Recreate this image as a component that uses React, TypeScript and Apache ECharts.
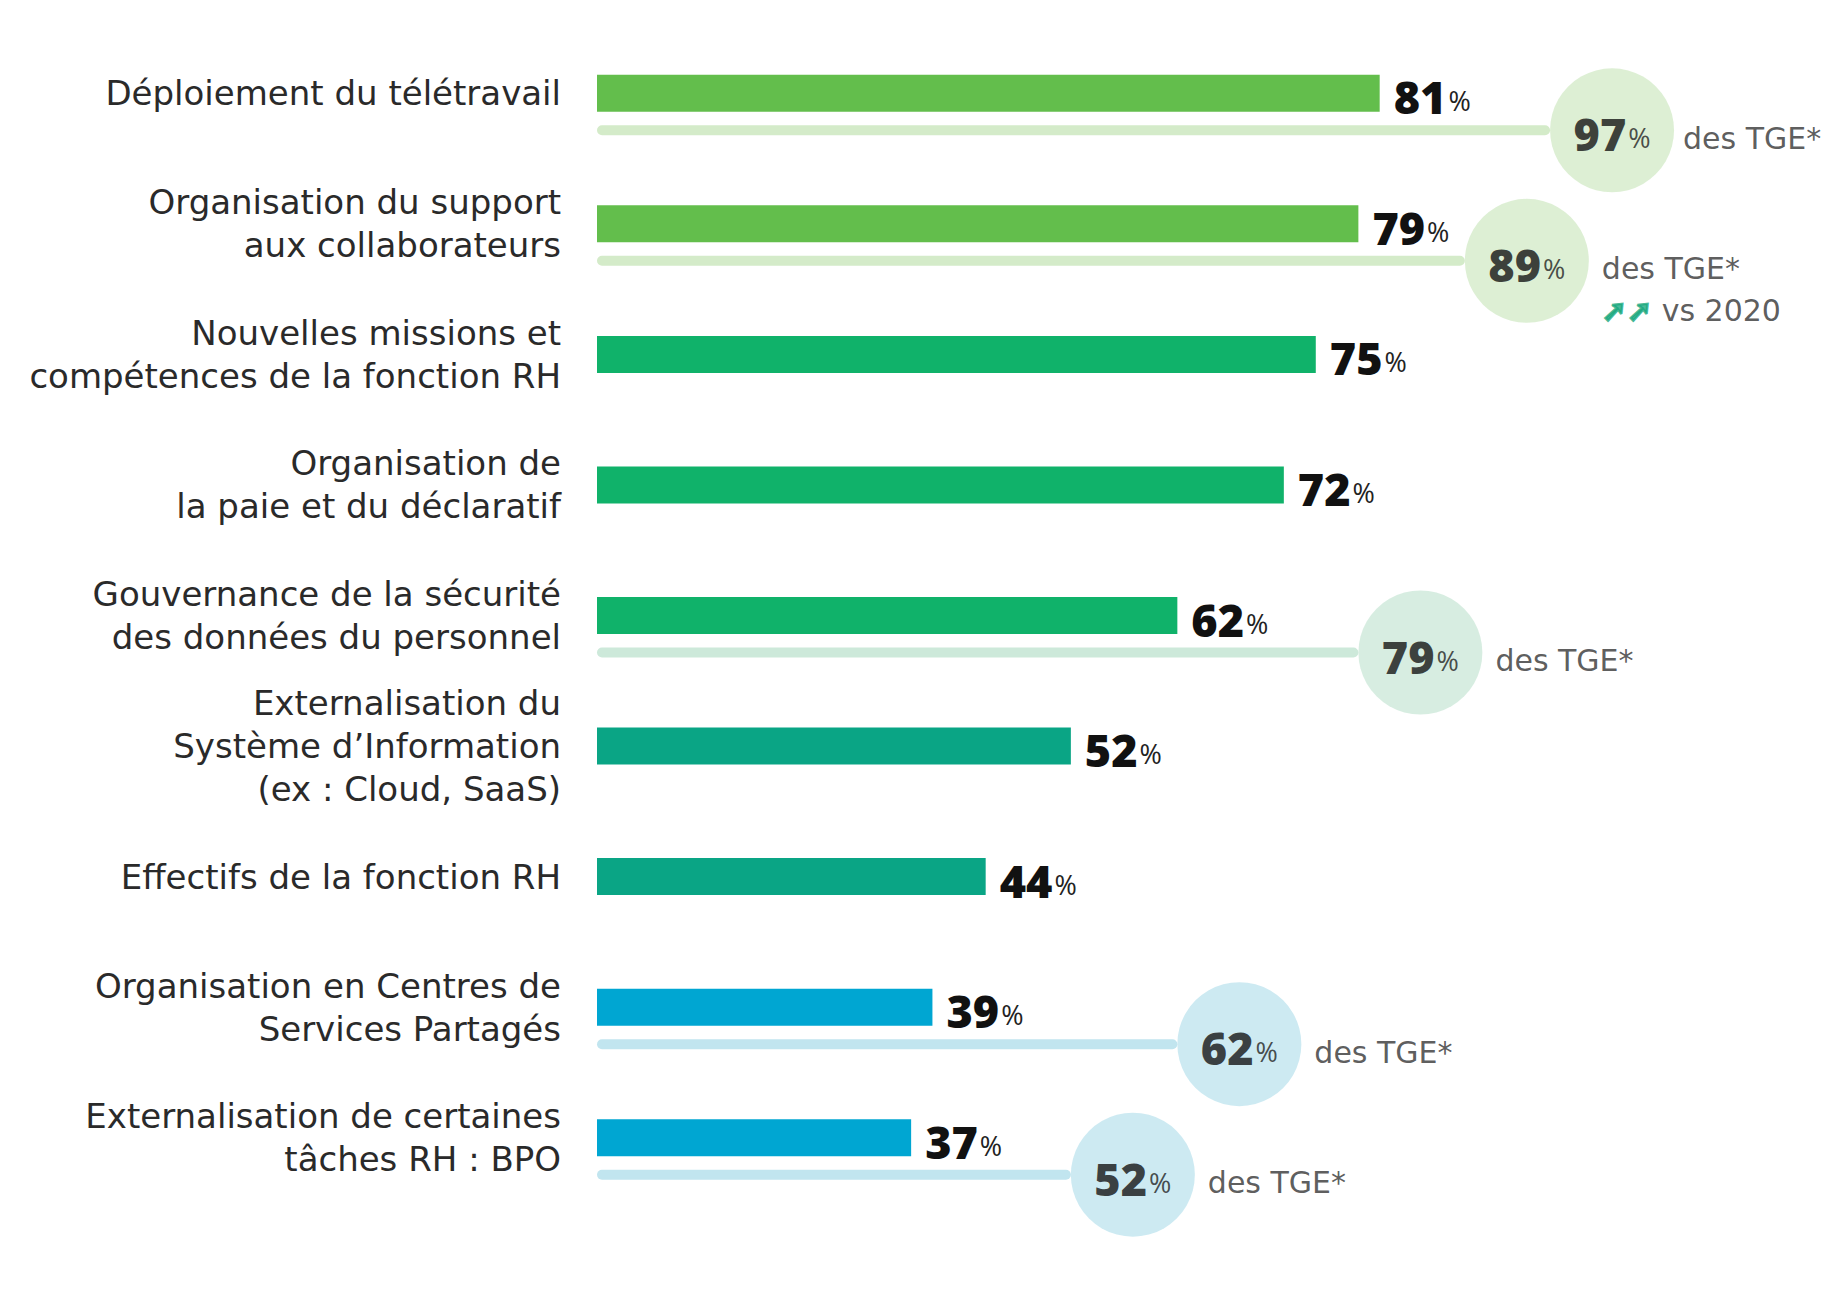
import React, { useEffect, useRef } from "react";
import * as echarts from "echarts";

const categories = [
  "Déploiement du télétravail",
  "Organisation du support\naux collaborateurs",
  "Nouvelles missions et\ncompétences de la fonction RH",
  "Organisation de\nla paie et du déclaratif",
  "Gouvernance de la sécurité\ndes données du personnel",
  "Externalisation du\nSystème d’Information\n(ex : Cloud, SaaS)",
  "Effectifs de la fonction RH",
  "Organisation en Centres de\nServices Partagés",
  "Externalisation de certaines\ntâches RH : BPO",
];
const allValues = [81, 79, 75, 72, 62, 52, 44, 39, 37];
const tgeValues: (number | null)[] = [97, 89, null, null, 79, null, null, 62, 52];
const tgeNote = "des TGE*";
const trendRow = 1;
const trendArrows = "➚➚";
const trendNote = "vs 2020";

const barPalette = ["#63be4c", "#63be4c", "#10b26a", "#10b26a", "#10b26a", "#0aa585", "#0aa585", "#00a6d2", "#00a6d2"];
const tgePalette = ["#d4ebc9", "#d4ebc9", "", "", "#cde9da", "", "", "#c1e5ef", "#c1e5ef"];

const FONT = "'Open Sans', 'Noto Sans', sans-serif";
const LABEL_FONT = "'DejaVu Sans', 'Open Sans', sans-serif";

const numRich = {
  n: { fontSize: 45, fontWeight: 800, color: "#111111", fontFamily: FONT, lineHeight: 52, verticalAlign: "bottom" },
  p: { fontSize: 27, fontWeight: 500, color: "#222222", fontFamily: FONT, lineHeight: 52, verticalAlign: "bottom", padding: [0, 0, 5, 2] },
};

function buildOption() {
  const tgeIdx = tgeValues.map((v, i) => (v == null ? -1 : i)).filter((i) => i >= 0);
  const R = 62;
  return {
    animation: false,
    backgroundColor: "#ffffff",
    grid: [
      { left: 597, right: 239, top: 28, bottom: 96 },
      { left: 597, right: 239, top: 65, bottom: 59 },
    ],
    xAxis: [
      { gridIndex: 0, type: "value", min: 7.5, max: 100, show: false },
      { gridIndex: 1, type: "value", min: 7.5, max: 100, show: false },
    ],
    yAxis: [
      {
        gridIndex: 0,
        type: "category",
        data: categories,
        inverse: true,
        axisLine: { show: false },
        axisTick: { show: false },
        splitLine: { show: false },
        axisLabel: {
          margin: 36,
          fontSize: 34,
          lineHeight: 43,
          color: "#2a2a2a",
          fontFamily: LABEL_FONT,
          align: "right",
        },
      },
      { gridIndex: 1, type: "category", data: categories, inverse: true, show: false },
    ],
    series: [
      {
        name: "TGE line",
        type: "bar",
        xAxisIndex: 1,
        yAxisIndex: 1,
        barWidth: 10,
        data: tgeValues.map((v, i) =>
          v == null ? "-" : { value: v, itemStyle: { color: tgePalette[i], borderRadius: 5 } }
        ),
        silent: true,
      },
      {
        name: "TGE",
        type: "scatter",
        xAxisIndex: 1,
        yAxisIndex: 1,
        clip: false,
        symbol: "circle",
        symbolSize: 2 * R,
        symbolOffset: [R, 0],
        data: tgeIdx.map((i) => ({
          value: [tgeValues[i], categories[i]],
          itemStyle: { color: tgePalette[i] },
        })),
        label: {
          show: true,
          position: "inside",
          formatter: (p: any) => `{n|${p.value[0]}}{p|%}`,
          rich: numRich,
        },
        z: 3,
      },
      {
        name: "TGE note",
        type: "scatter",
        xAxisIndex: 1,
        yAxisIndex: 1,
        clip: false,
        symbol: "circle",
        symbolSize: 2 * R,
        symbolOffset: [R, 0],
        itemStyle: { color: "rgba(0,0,0,0)" },
        data: tgeIdx.map((i) => ({
          value: [tgeValues[i], categories[i]],
          label:
            i === trendRow
              ? {
                  formatter: `{t|${tgeNote}}\n{a|${trendArrows}}{t| ${trendNote}}`,
                  offset: [0, 29],
                }
              : i === 0
              ? { formatter: `{t|${tgeNote}}`, offset: [0, 8], distance: 9 }
              : { formatter: `{t|${tgeNote}}`, offset: [0, 8] },
        })),
        label: {
          show: true,
          position: "right",
          distance: 13,
          rich: {
            t: { fontSize: 30, color: "#333333", fontFamily: LABEL_FONT, lineHeight: 42 },
            a: {
              fontSize: 30,
              fontWeight: "bold",
              color: "#17a77c",
              textBorderColor: "#17a77c",
              textBorderWidth: 2.5,
              fontFamily: "'DejaVu Sans', sans-serif",
              lineHeight: 42,
            },
          },
        },
        z: 3,
      },
      {
        name: "Valeur",
        type: "bar",
        xAxisIndex: 0,
        yAxisIndex: 0,
        barWidth: 37,
        data: allValues.map((v, i) => ({ value: v, itemStyle: { color: barPalette[i] } })),
        label: {
          show: true,
          position: "right",
          distance: 14,
          formatter: (p: any) => `{n|${p.value}}{p|%}`,
          rich: numRich,
        },
        z: 4,
      },
    ],
  };
}

export default function App() {
  const ref = useRef<HTMLDivElement>(null);
  useEffect(() => {
    if (!ref.current) return;
    const chart = echarts.init(ref.current, undefined, { renderer: "svg" });
    chart.setOption(buildOption() as any);
    return () => chart.dispose();
  }, []);
  return (
    <div
      ref={ref}
      style={{ position: "absolute", left: 0, top: 0, width: 1821, height: 1299, background: "#ffffff" }}
    />
  );
}
